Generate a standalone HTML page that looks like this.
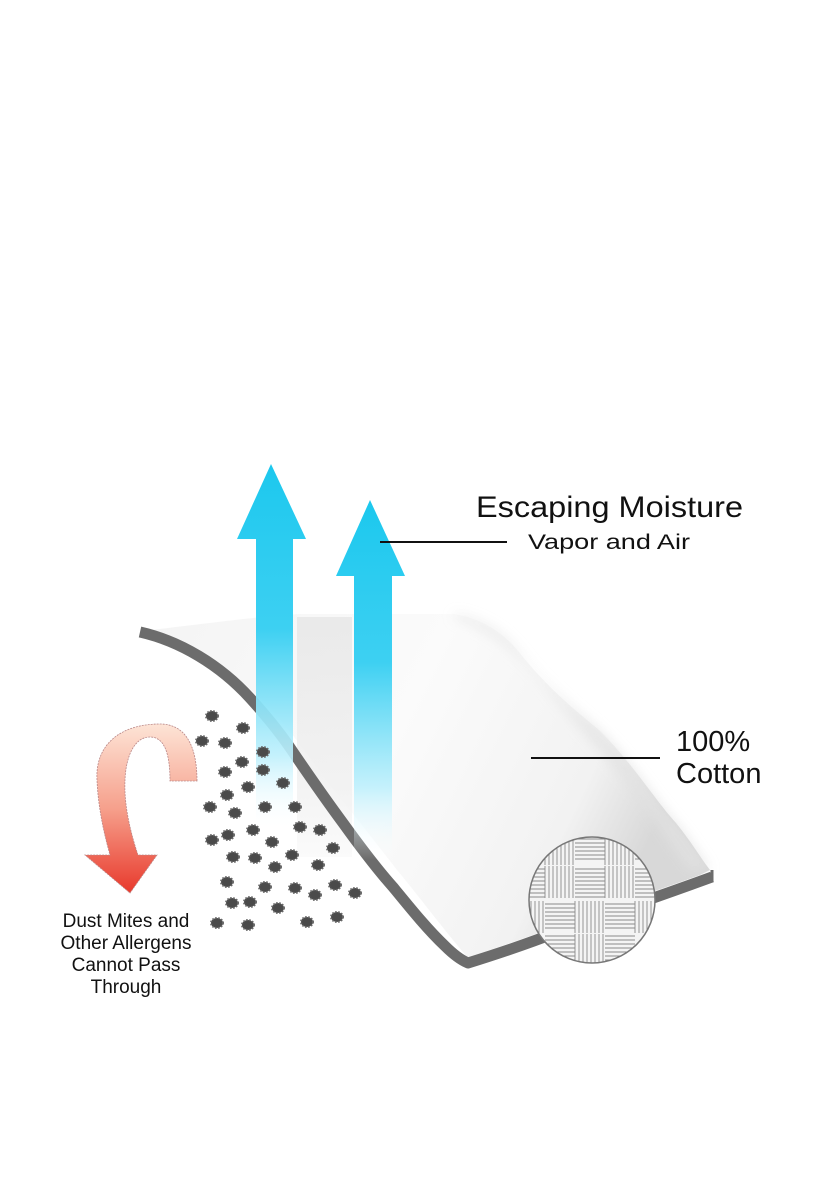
<!DOCTYPE html>
<html><head><meta charset="utf-8"><style>
html,body{margin:0;padding:0;background:#fff}
svg{display:block}
text{font-family:"Liberation Sans",sans-serif;fill:#111}
</style></head><body>
<svg width="828" height="1177" viewBox="0 0 828 1177" xmlns="http://www.w3.org/2000/svg">
<defs>
<linearGradient id="blue1" x1="0" y1="0" x2="0" y2="1">
<stop offset="0" stop-color="#1cc8ee"/><stop offset="0.45" stop-color="#3dd0f2"/><stop offset="0.8" stop-color="#bff0fc" stop-opacity="0.9"/><stop offset="1" stop-color="#fff" stop-opacity="0"/>
</linearGradient>
<linearGradient id="sheet" x1="0" y1="0" x2="1" y2="0.3">
<stop offset="0" stop-color="#f4f4f4"/><stop offset="0.5" stop-color="#fbfbfb"/><stop offset="0.85" stop-color="#f2f2f2"/><stop offset="1" stop-color="#d8d8d8"/>
</linearGradient>
<linearGradient id="red" x1="0" y1="0" x2="0" y2="1">
<stop offset="0" stop-color="#fde4d6"/><stop offset="0.5" stop-color="#f6a08c"/><stop offset="1" stop-color="#e8392c"/>
</linearGradient>
<linearGradient id="ghost" x1="0" y1="0" x2="0" y2="1">
<stop offset="0" stop-color="#e6e6e6"/><stop offset="0.7" stop-color="#f0f0f0"/><stop offset="1" stop-color="#fafafa"/>
</linearGradient>
<clipPath id="cc"><circle cx="592" cy="900" r="63"/></clipPath>
<filter id="blur"><feGaussianBlur stdDeviation="6"/></filter>
</defs>

<path d="M150,630 C220,622 260,616 301,614 L454,614 C490,620 510,640 523,657 C550,690 575,710 599,730 C630,760 655,800 676,823 C690,840 700,857 710,870 L700,875 C650,893 600,910 560,925 C520,940 490,950 468,958 C440,925 410,885 397,870 C370,835 350,810 330,785 C300,745 280,715 253,692 C220,660 190,640 150,630 Z" fill="url(#sheet)"/>
<path d="M454,614 C490,620 510,640 523,657 C550,690 575,710 599,730 C630,760 655,800 676,823 C690,840 700,857 710,870 L690,870 C670,845 650,810 625,780 C600,750 570,715 540,680 C515,650 490,628 454,618 Z" fill="#e2e2e2" filter="url(#blur)" opacity="0.8"/>
<rect x="297" y="617" width="55" height="240" fill="url(#ghost)" opacity="0.8"/>

<path d="M140,632 C180,641 220,665 250,698 C270,720 285,740 293,752 C310,777 326,800 343,823 C361,848 376,868 393,887 C411,909 428,930 445,946 C453,954 461,960 468,963 C500,953 530,943 560,931 C610,913 660,896 712,877" fill="none" stroke="#6c6c6c" stroke-width="11" stroke-linejoin="round"/>
<path d="M712,870 L712,882" stroke="#6c6c6c" stroke-width="3"/>

<path d="M271,464 L306,539 L293,539 L293,830 L256,830 L256,539 L237,539 Z" fill="url(#blue1)"/>
<path d="M370,500 L405,576 L392,576 L392,860 L354,860 L354,576 L336,576 Z" fill="url(#blue1)"/>

<g clip-path="url(#cc)">
<rect x="520" y="830" width="150" height="150" fill="#f4f4f4"/>
<g stroke="#8a8a8a" stroke-width="0.9" fill="none">
<path d="M545,835v30M549,835v30M553,835v30M557,835v30M561,835v30M565,835v30M569,835v30M573,835v30
M605,835v30M609,835v30M613,835v30M617,835v30M621,835v30M625,835v30M629,835v30M633,835v30
M575,869h30M575,873h30M575,877h30M575,881h30M575,885h30M575,889h30M575,893h30M575,897h30
M575,839h30M575,843h30M575,847h30M575,851h30M575,855h30M575,859h30
M635,839h30M635,843h30M635,847h30M635,851h30M635,855h30M635,859h30
M515,869h30M515,873h30M515,877h30M515,881h30M515,885h30M515,889h30M515,893h30M515,897h30
M635,869h30M635,873h30M635,877h30M635,881h30M635,885h30M635,889h30M635,893h30M635,897h30
M545,866v32M549,866v32M553,866v32M557,866v32M561,866v32M565,866v32M569,866v32M573,866v32
M605,866v32M609,866v32M613,866v32M617,866v32M621,866v32M625,866v32M629,866v32M633,866v32
M575,901v32M579,901v32M583,901v32M587,901v32M591,901v32M595,901v32M599,901v32M603,901v32
M515,901v32M519,901v32M523,901v32M527,901v32M531,901v32M535,901v32M539,901v32M543,901v32
M635,901v32M639,901v32M643,901v32M647,901v32M651,901v32M655,901v32M659,901v32M663,901v32
M545,904h30M545,908h30M545,912h30M545,916h30M545,920h30M545,924h30M545,928h30
M605,904h30M605,908h30M605,912h30M605,916h30M605,920h30M605,924h30M605,928h30
M545,936h30M545,940h30M545,944h30M545,948h30M545,952h30M545,956h30M545,960h30
M605,936h30M605,940h30M605,944h30M605,948h30M605,952h30M605,956h30M605,960h30
M575,934v32M579,934v32M583,934v32M587,934v32M591,934v32M595,934v32M599,934v32M603,934v32"/>
</g>
</g>
<circle cx="592" cy="900" r="63" fill="none" stroke="#777" stroke-width="1.5"/>

<g fill="#4a4a4a" stroke="#666" stroke-width="2" stroke-dasharray="1.5,1.5">
<ellipse cx="212" cy="716" rx="6" ry="5"/><ellipse cx="243" cy="728" rx="6" ry="5"/><ellipse cx="202" cy="741" rx="6" ry="5"/><ellipse cx="225" cy="743" rx="6" ry="5"/><ellipse cx="263" cy="752" rx="6" ry="5"/><ellipse cx="242" cy="762" rx="6" ry="5"/><ellipse cx="225" cy="772" rx="6" ry="5"/><ellipse cx="263" cy="770" rx="6" ry="5"/><ellipse cx="248" cy="787" rx="6" ry="5"/><ellipse cx="283" cy="783" rx="6" ry="5"/><ellipse cx="227" cy="795" rx="6" ry="5"/><ellipse cx="210" cy="807" rx="6" ry="5"/><ellipse cx="265" cy="807" rx="6" ry="5"/><ellipse cx="295" cy="807" rx="6" ry="5"/><ellipse cx="235" cy="813" rx="6" ry="5"/><ellipse cx="253" cy="830" rx="6" ry="5"/><ellipse cx="300" cy="827" rx="6" ry="5"/><ellipse cx="320" cy="830" rx="6" ry="5"/><ellipse cx="212" cy="840" rx="6" ry="5"/><ellipse cx="228" cy="835" rx="6" ry="5"/><ellipse cx="272" cy="842" rx="6" ry="5"/><ellipse cx="333" cy="848" rx="6" ry="5"/><ellipse cx="233" cy="857" rx="6" ry="5"/><ellipse cx="255" cy="858" rx="6" ry="5"/><ellipse cx="292" cy="855" rx="6" ry="5"/><ellipse cx="275" cy="867" rx="6" ry="5"/><ellipse cx="318" cy="865" rx="6" ry="5"/><ellipse cx="227" cy="882" rx="6" ry="5"/><ellipse cx="265" cy="887" rx="6" ry="5"/><ellipse cx="295" cy="888" rx="6" ry="5"/><ellipse cx="315" cy="895" rx="6" ry="5"/><ellipse cx="335" cy="885" rx="6" ry="5"/><ellipse cx="355" cy="893" rx="6" ry="5"/><ellipse cx="232" cy="903" rx="6" ry="5"/><ellipse cx="250" cy="902" rx="6" ry="5"/><ellipse cx="278" cy="908" rx="6" ry="5"/><ellipse cx="217" cy="923" rx="6" ry="5"/><ellipse cx="248" cy="925" rx="6" ry="5"/><ellipse cx="307" cy="922" rx="6" ry="5"/><ellipse cx="337" cy="917" rx="6" ry="5"/>
</g>

<path d="M197,781 C197,745 185,724 160,724 C120,724 95,745 97,780 C98,805 103,830 110,855 L85,855 L130,893 L157,855 L138,855 C128,825 124,800 125,780 C126,755 135,737 150,737 C165,737 170,755 170,781 Z" fill="url(#red)" stroke="#b88" stroke-width="0.8" stroke-dasharray="2,1"/>

<line x1="380" y1="542" x2="507" y2="542" stroke="#111" stroke-width="2"/>
<line x1="531" y1="758" x2="660" y2="758" stroke="#111" stroke-width="2"/>
<text x="476" y="517" font-size="29.5" textLength="267" lengthAdjust="spacingAndGlyphs">Escaping Moisture</text>
<text x="528" y="549" font-size="21.5" textLength="162" lengthAdjust="spacingAndGlyphs">Vapor and Air</text>
<text x="676" y="751" font-size="29">100%</text>
<text x="676" y="783" font-size="29">Cotton</text>
<g font-size="19" text-anchor="middle">
<text x="126" y="927">Dust Mites and</text>
<text x="126" y="949">Other Allergens</text>
<text x="126" y="971">Cannot Pass</text>
<text x="126" y="993">Through</text>
</g>
</svg>
</body></html>
